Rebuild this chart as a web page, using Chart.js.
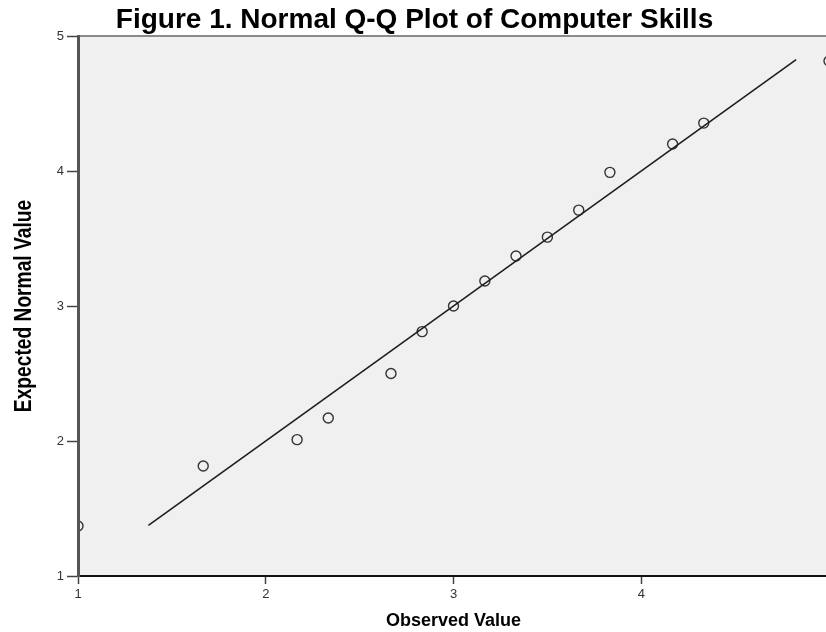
<!DOCTYPE html>
<html>
<head>
<meta charset="utf-8">
<script src="https://cdn.jsdelivr.net/npm/chart.js@4/dist/chart.umd.min.js"></script>
<style>
  html, body { margin: 0; padding: 0; background: #ffffff; overflow: hidden; }
  #wrap { width: 840px; height: 632px; }
</style>
</head>
<body>
<div id="wrap"><canvas id="c" width="840" height="632"></canvas></div>
<script>
// ---- data ----
const observedValues = [1.0, 1.667, 2.167, 2.333, 2.667, 2.833, 3.0, 3.167, 3.333, 3.5, 3.667, 3.833, 4.167, 4.333, 5.0];
const expectedNormal = [1.37, 1.815, 2.01, 2.17, 2.50, 2.81, 3.0, 3.185, 3.37, 3.51, 3.71, 3.99, 4.20, 4.355, 4.815];
const refLineX = [1.375, 4.825];
const refLineY = [1.375, 4.825];
const xTicks = [1, 2, 3, 4, 5];
const yTicks = [1, 2, 3, 4, 5];
const chartTitle = 'Figure 1. Normal Q-Q Plot of Computer Skills';
const xTitle = 'Observed Value';
const yTitle = 'Expected Normal Value';

const pts = observedValues.map((x, i) => ({ x: x, y: expectedNormal[i] }));
const linePts = refLineX.map((x, i) => ({ x: x, y: refLineY[i] }));

const plotDecor = {
  id: 'plotDecor',
  beforeDraw(chart) {
    const { ctx, chartArea: a } = chart;
    ctx.save();
    ctx.fillStyle = '#f0f0f0';
    ctx.fillRect(a.left, a.top, a.right - a.left, a.bottom - a.top);
    ctx.restore();
  },
  afterDatasetsDraw(chart) {
    const { ctx, chartArea: a } = chart;
    ctx.save();
    ctx.strokeStyle = '#8a8a8a';
    ctx.lineWidth = 2;
    ctx.beginPath();
    ctx.moveTo(a.left, a.top);
    ctx.lineTo(a.right, a.top);
    ctx.stroke();
    ctx.restore();
  },
  afterDraw(chart) {
    // condensed, rotated y-axis title
    const { ctx, chartArea: a } = chart;
    ctx.save();
    ctx.translate(31, (a.top + a.bottom) / 2);
    ctx.rotate(-Math.PI / 2);
    ctx.scale(0.8, 1);
    ctx.font = 'bold 24px "Liberation Sans", Arial, sans-serif';
    ctx.fillStyle = '#000000';
    ctx.textAlign = 'center';
    ctx.textBaseline = 'alphabetic';
    ctx.fillText(yTitle, 0, 0);
    ctx.restore();
  }
};

new Chart(document.getElementById('c'), {
  type: 'scatter',
  data: {
    datasets: [
      {
        type: 'line',
        data: linePts,
        borderColor: '#1e1e1e',
        borderWidth: 1.6,
        pointRadius: 0,
        fill: false,
        clip: 0
      },
      {
        data: pts,
        pointStyle: 'circle',
        pointRadius: 5,
        backgroundColor: 'rgba(0,0,0,0)',
        borderColor: '#333333',
        borderWidth: 1.4,
        clip: 0
      }
    ]
  },
  plugins: [plotDecor],
  options: {
    responsive: false,
    animation: false,
    devicePixelRatio: 1,
    layout: { padding: { left: 0, right: 11, top: 0, bottom: 0 } },
    plugins: {
      legend: { display: false },
      tooltip: { enabled: false },
      title: {
        display: true,
        text: chartTitle,
        color: '#000000',
        font: { family: '"Liberation Sans", Arial, sans-serif', size: 28, weight: 'bold', lineHeight: 1.0 },
        padding: { top: 6, bottom: 2 }
      }
    },
    scales: {
      x: {
        type: 'linear',
        min: 1, max: 5,
        afterBuildTicks(scale) { scale.ticks = xTicks.map(v => ({ value: v })); },
        afterFit(scale) { scale.height = 56; },
        border: { display: true, color: '#111111', width: 2, z: 1 },
        grid: { drawOnChartArea: false, drawTicks: true, tickLength: 8, tickColor: '#444444', tickWidth: 1.5 },
        ticks: { color: '#333333', padding: 3, font: { family: '"Liberation Sans", Arial, sans-serif', size: 13 } },
        title: {
          display: true,
          text: xTitle,
          color: '#000000',
          font: { family: '"Liberation Sans", Arial, sans-serif', size: 18, weight: 'bold' },
          padding: { top: 0, bottom: 0 }
        }
      },
      y: {
        type: 'linear',
        min: 1, max: 5,
        afterBuildTicks(scale) { scale.ticks = yTicks.map(v => ({ value: v })); },
        afterFit(scale) { scale.width = 78; },
        border: { display: true, color: '#555555', width: 3, z: 1 },
        grid: { drawOnChartArea: false, drawTicks: true, tickLength: 11, tickColor: '#444444', tickWidth: 1.5 },
        ticks: { color: '#333333', padding: 3, font: { family: '"Liberation Sans", Arial, sans-serif', size: 13 } },
        title: { display: false }
      }
    }
  }
});
</script>
</body>
</html>
